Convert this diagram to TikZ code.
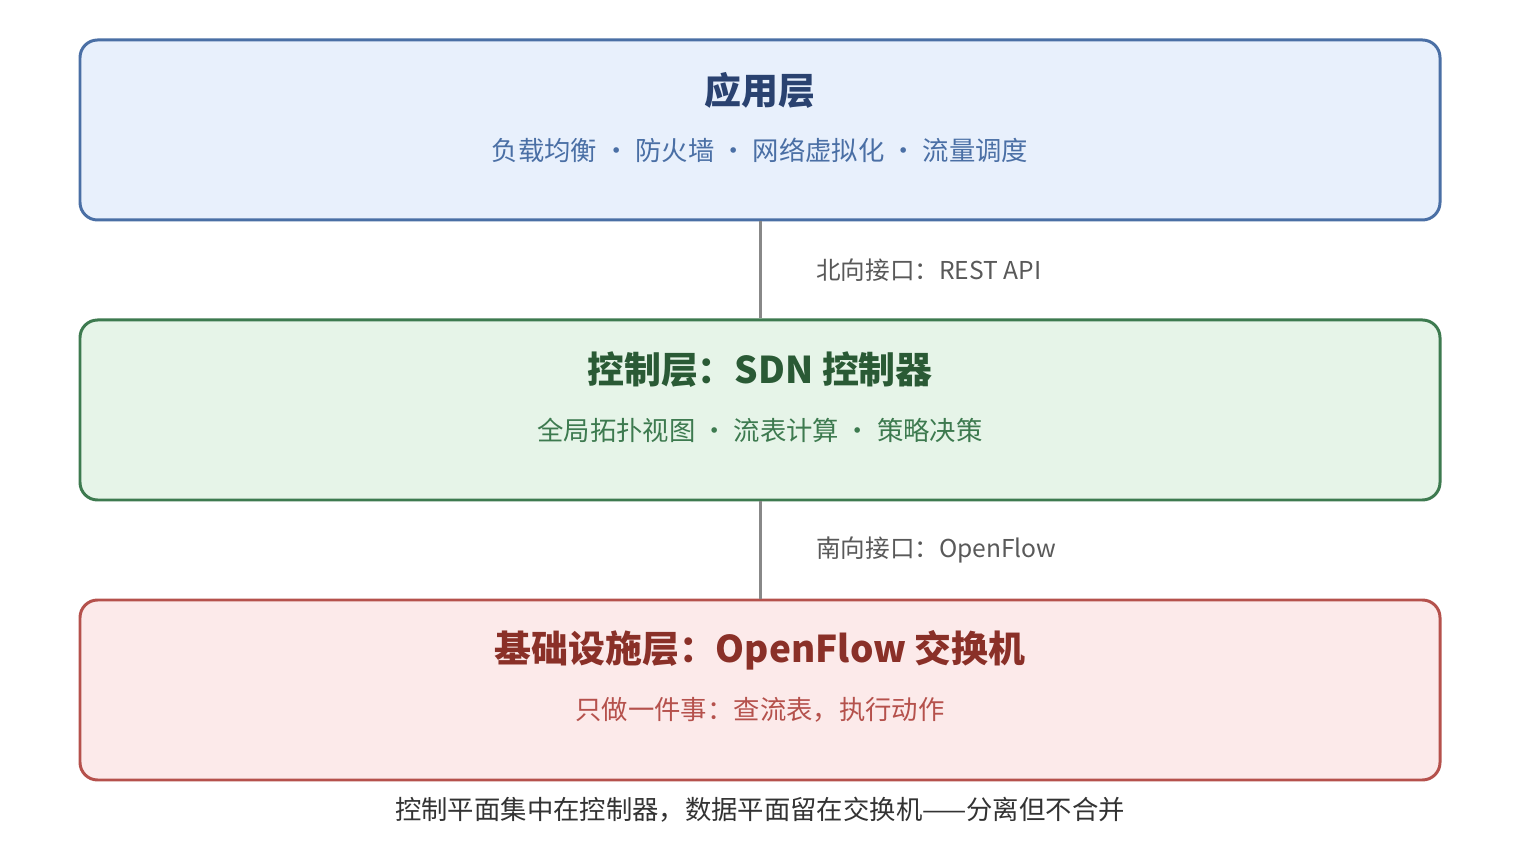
\documentclass[tikz,border=0pt]{standalone}
\usepackage{fontspec}
\setmainfont{Noto Sans CJK SC}
\usetikzlibrary{positioning}
\definecolor{appfill}{HTML}{E8F0FC}
\definecolor{appline}{HTML}{4A6FA5}
\definecolor{apptext}{HTML}{2A4270}
\definecolor{ctlfill}{HTML}{E6F4E8}
\definecolor{ctlline}{HTML}{3D7A4F}
\definecolor{ctltext}{HTML}{2A5A35}
\definecolor{infill}{HTML}{FCEAEA}
\definecolor{inline}{HTML}{B5514C}
\definecolor{intext}{HTML}{8A3028}
\definecolor{linkgray}{HTML}{888888}
\tikzset{
  layer/.style = {rectangle, rounded corners=10pt, line width=1.7pt, minimum width=27.2cm, minimum height=3.6cm},
  title/.style = {font=\fontsize{21}{25}\selectfont\bfseries},
  sub/.style = {font=\fontsize{15}{18}\selectfont},
  link/.style = {-, draw=linkgray, line width=1.7pt},
  linklbl/.style = {anchor=west, text=black!65, font=\fontsize{14}{17}\selectfont}
}
\begin{document}
\begin{tikzpicture}
\useasboundingbox (0, 0) rectangle (30.4, 16.8);
\node [layer, draw=appline, fill=appfill] (app) at (15.2, 14.2) {};
\node [layer, draw=ctlline, fill=ctlfill] (ctl) at (15.2, 8.6) {};
\node [layer, draw=inline, fill=infill] (infra) at (15.2, 3.0) {};
\node [title, text=apptext] (appT) at (15.2, 15.0) {应用层};
\node [sub, text=appline] (appS) at (15.2, 13.8) {负载均衡 · 防火墙 · 网络虚拟化 · 流量调度};
\node [title, text=ctltext] (ctlT) at (15.2, 9.4) {控制层：SDN 控制器};
\node [sub, text=ctlline] (ctlS) at (15.2, 8.2) {全局拓扑视图 · 流表计算 · 策略决策};
\node [title, text=intext] (infT) at (15.2, 3.8) {基础设施层：OpenFlow 交换机};
\node [sub, text=inline] (infS) at (15.2, 2.6) {只做一件事：查流表，执行动作};
\draw [link] (app.south) to (ctl.north);
\draw [link] (ctl.south) to (infra.north);
\node [linklbl] (north) at (16.2, 11.4) {北向接口：REST API};
\node [linklbl] (south) at (16.2, 5.8) {南向接口：OpenFlow};
\node [font=\fontsize{15}{18}\selectfont, text=black!80] (note) at (15.2, 0.6) {控制平面集中在控制器，数据平面留在交换机——分离但不合并};
\end{tikzpicture}
\end{document}
